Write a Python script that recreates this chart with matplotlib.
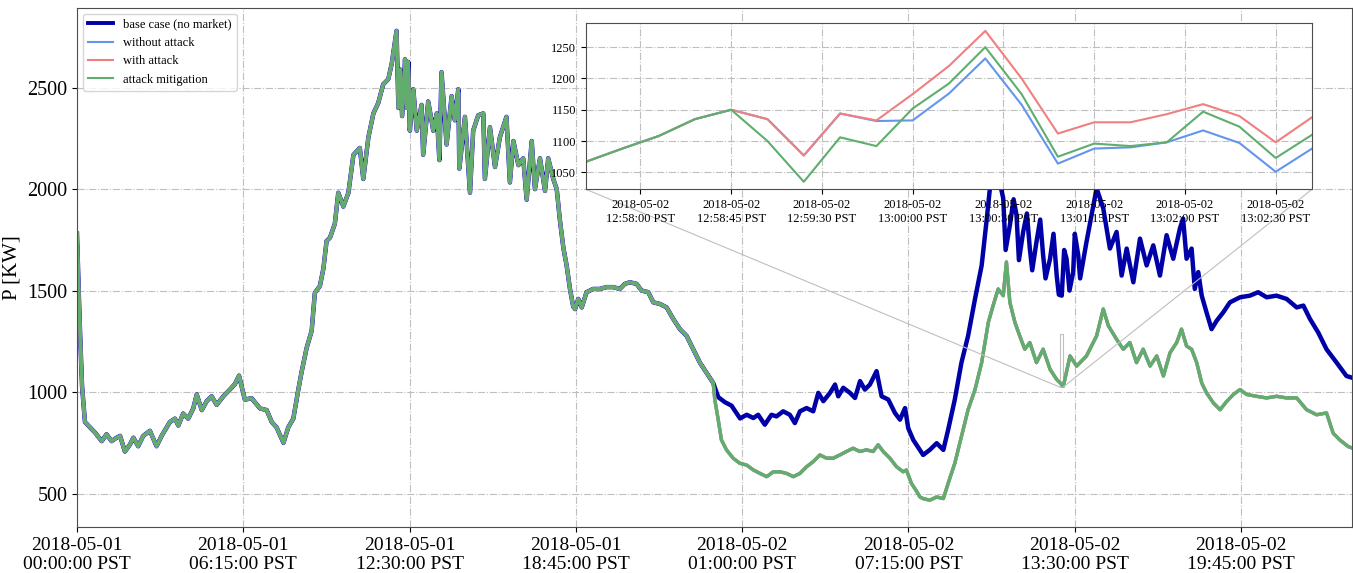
import numpy as np
import pandas as pd
import matplotlib
matplotlib.use('Agg')
import matplotlib.pyplot as plt
from mpl_toolkits.axes_grid1.inset_locator import mark_inset

plt.rcParams['font.family'] = ['Liberation Serif', 'DejaVu Serif']
plt.rcParams['axes.edgecolor'] = '0.3'

t0 = pd.Timestamp('2018-05-01 00:00:00')

# hours since 2018-05-01 00:00, all cases identical until about midnight
shared_hours = [0.00, 0.10, 0.19, 0.30, 0.49, 0.68, 0.93, 1.11, 1.30, 1.49, 1.62, 1.80, 1.99, 2.12,
                2.30, 2.49, 2.74, 2.99, 3.18, 3.49, 3.68, 3.81, 3.99, 4.18, 4.37, 4.50, 4.69, 4.87,
                5.06, 5.25, 5.50, 5.75, 5.94, 6.09, 6.31, 6.56, 6.88, 7.13, 7.32, 7.50, 7.76, 7.94,
                8.13, 8.32, 8.44, 8.63, 8.82, 8.94, 9.13, 9.26, 9.38, 9.51, 9.69, 9.82, 10.01, 10.20,
                10.39, 10.63, 10.76, 10.95, 11.14, 11.32, 11.51, 11.70, 11.83, 12.01, 12.08, 12.14,
                12.22, 12.33, 12.40, 12.45, 12.51, 12.64, 12.77, 12.95, 13.01, 13.20, 13.39, 13.52,
                13.62, 13.70, 13.89, 14.08, 14.20, 14.33, 14.37, 14.58, 14.77, 14.89, 15.08, 15.27,
                15.33, 15.52, 15.71, 15.89, 16.14, 16.27, 16.40, 16.59, 16.77, 16.90, 17.09, 17.21,
                17.40, 17.59, 17.71, 17.90, 18.03, 18.15, 18.28, 18.40, 18.53, 18.65, 18.72, 18.84,
                18.97, 19.15, 19.40, 19.65, 19.90, 20.15, 20.40, 20.59, 20.78, 21.03, 21.22, 21.47,
                21.66, 21.91, 22.16, 22.41, 22.66, 22.91, 23.16, 23.41, 23.66, 23.91]
shared_p = [1780, 1350, 1030, 852, 826, 800, 758, 792, 758, 775, 784, 707, 741, 775,
            733, 784, 809, 733, 784, 852, 869, 835, 894, 869, 919, 988, 911, 954,
            979, 937, 979, 1013, 1040, 1081, 962, 970, 919, 911, 852, 826, 750, 826,
            869, 1013, 1098, 1217, 1302, 1489, 1523, 1608, 1744, 1761, 1829, 1982, 1914, 1982,
            2169, 2203, 2050, 2254, 2373, 2424, 2517, 2542, 2619, 2780, 2400, 2590,
            2360, 2640, 2400, 2627, 2288, 2492, 2288, 2415, 2169, 2432, 2288, 2373,
            2143, 2576, 2220, 2458, 2339, 2492, 2101, 2356, 1982, 2288, 2364, 2373,
            2050, 2305, 2109, 2254, 2356, 2033, 2237, 2118, 2152, 1948, 2237, 2000,
            2152, 1991, 2152, 2050, 2000, 1846, 1710, 1625, 1506, 1421, 1409, 1459,
            1417, 1492, 1508, 1508, 1517, 1517, 1508, 1533, 1541, 1533, 1500, 1492,
            1442, 1434, 1417, 1360, 1310, 1277, 1211, 1145, 1095, 1045]

# base case (no market) after the split
base_hours = [24.10, 24.35, 24.60, 24.72, 24.92, 25.17, 25.42, 25.60, 25.85, 26.10, 26.29, 26.54,
              26.79, 26.98, 27.17, 27.42, 27.67, 27.86, 28.05, 28.30, 28.49, 28.61, 28.80, 29.05,
              29.24, 29.43, 29.61, 29.80, 30.05, 30.24, 30.49, 30.74, 30.93, 31.12, 31.24, 31.43,
              31.60, 31.80, 32.05, 32.31, 32.56, 32.74, 32.99, 33.24, 33.49, 33.75, 34.00, 34.18,
              34.31, 34.50, 34.65, 34.81, 34.90, 35.06, 35.20, 35.31, 35.40, 35.56, 35.70, 35.81,
              35.90, 36.06, 36.20, 36.31, 36.40, 36.57, 36.70, 36.82, 36.90, 37.01, 37.10, 37.19,
              37.30, 37.44, 37.50, 37.63, 37.70, 37.94, 38.32, 38.57, 38.82, 39.07, 39.26, 39.45,
              39.70, 39.95, 40.20, 40.45, 40.70, 40.95, 41.20, 41.45, 41.57, 41.70, 41.89, 42.01,
              42.14, 42.27, 42.45, 42.64, 42.83, 43.08, 43.33, 43.71, 44.08, 44.39, 44.71, 45.08,
              45.46, 45.84, 46.09, 46.34, 46.65, 46.96, 47.34, 47.71, 47.91]
base_p = [975, 950, 933, 909, 870, 888, 872, 888, 839, 888, 880, 905,
          888, 847, 905, 921, 905, 996, 955, 996, 1037, 979, 1021, 996,
          971, 1054, 1012, 1037, 1103, 979, 963, 897, 864, 921, 822, 764,
          730, 690, 715, 748, 715, 814, 963, 1145, 1277, 1459, 1624, 1839,
          2004, 2150, 2050, 1955, 1700, 1822, 1950, 1872, 1650, 1789, 1880, 1707,
          1600, 1740, 1850, 1674, 1560, 1657, 1780, 1574, 1480, 1475, 1700, 1657,
          1500, 1591, 1780, 1674, 1560, 1740, 2004, 1905, 1707, 1789, 1574, 1707,
          1541, 1756, 1624, 1723, 1574, 1773, 1657, 1806, 1855, 1657, 1707, 1508,
          1591, 1475, 1393, 1310, 1351, 1393, 1442, 1467, 1475, 1492, 1467, 1475,
          1459, 1417, 1426, 1360, 1293, 1211, 1145, 1079, 1071]

# market cases (without attack / with attack / mitigation overlap at this scale)
market_hours = [23.97, 24.10, 24.22, 24.41, 24.66, 24.91, 25.17, 25.42, 25.67, 25.92, 26.17, 26.42,
                26.67, 26.92, 27.17, 27.42, 27.67, 27.92, 28.17, 28.42, 28.67, 28.92, 29.17, 29.42,
                29.67, 29.92, 30.11, 30.30, 30.55, 30.80, 31.05, 31.17, 31.36, 31.55, 31.68, 31.80,
                32.05, 32.31, 32.56, 32.74, 32.99, 33.24, 33.49, 33.75, 34.00, 34.25, 34.43, 34.62,
                34.81, 34.93, 35.06, 35.25, 35.43, 35.62, 35.81, 36.06, 36.31, 36.57, 36.82, 37.07,
                37.32, 37.57, 37.94, 38.32, 38.57, 38.76, 39.07, 39.32, 39.57, 39.82, 40.07, 40.33,
                40.58, 40.83, 41.08, 41.33, 41.51, 41.70, 41.89, 42.08, 42.27, 42.45, 42.71, 42.96,
                43.21, 43.46, 43.71, 43.96, 44.33, 44.71, 45.08, 45.46, 45.84, 46.21, 46.59, 46.96,
                47.21, 47.46, 47.78, 47.91]
market_p = [963, 863, 764, 715, 674, 649, 640, 616, 599, 583, 607, 607,
            599, 583, 599, 632, 657, 690, 674, 674, 690, 707, 723, 707,
            715, 707, 740, 707, 674, 632, 607, 616, 550, 512, 483, 475,
            467, 483, 475, 550, 649, 781, 913, 1012, 1145, 1343, 1426, 1508,
            1475, 1641, 1442, 1343, 1277, 1211, 1244, 1145, 1211, 1112, 1062, 1029,
            1178, 1128, 1178, 1277, 1409, 1327, 1260, 1211, 1244, 1145, 1211, 1128,
            1178, 1079, 1194, 1244, 1310, 1227, 1211, 1145, 1045, 996, 946, 913,
            954, 988, 1012, 988, 979, 971, 979, 971, 971, 913, 888, 897,
            797, 764, 731, 725]

main_tick_hours = [0, 6.25, 12.5, 18.75, 25, 31.25, 37.5, 43.75]
main_tick_labels = ['2018-05-01\n00:00:00 PST', '2018-05-01\n06:15:00 PST', '2018-05-01\n12:30:00 PST',
                    '2018-05-01\n18:45:00 PST', '2018-05-02\n01:00:00 PST', '2018-05-02\n07:15:00 PST',
                    '2018-05-02\n13:30:00 PST', '2018-05-02\n19:45:00 PST']

# zoomed window, one sample every 15 s
inset_start = pd.Timestamp('2018-05-02 12:57:45')
inset_without = [1067, 1088, 1108, 1135, 1150, 1135, 1077, 1144, 1132, 1133, 1176,
                 1232, 1158, 1064, 1088, 1090, 1098, 1117, 1097, 1051, 1088]
inset_with = [1067, 1088, 1108, 1135, 1150, 1135, 1077, 1144, 1133, 1175, 1220,
              1276, 1200, 1112, 1130, 1130, 1143, 1159, 1140, 1098, 1138]
inset_mitig = [1067, 1088, 1108, 1135, 1150, 1100, 1035, 1106, 1092, 1152, 1192,
               1250, 1175, 1075, 1096, 1092, 1098, 1147, 1123, 1073, 1110]
inset_tick_idx = [1.5, 4, 6.5, 9, 11.5, 14, 16.5, 19]
inset_tick_labels = ['2018-05-02\n12:58:00 PST', '2018-05-02\n12:58:45 PST', '2018-05-02\n12:59:30 PST',
                     '2018-05-02\n13:00:00 PST', '2018-05-02\n13:00:30 PST', '2018-05-02\n13:01:15 PST',
                     '2018-05-02\n13:02:00 PST', '2018-05-02\n13:02:30 PST']

c_base = '#0000a8'
c_without = '#6495ed'
c_with = '#f08080'
c_mitig = '#5fae6e'


def to_time(hours):
    return t0 + pd.to_timedelta(np.asarray(hours, dtype=float), unit='h')


base_t = to_time(shared_hours + base_hours)
base_v = shared_p + base_p
mkt_t = to_time(shared_hours + market_hours)
mkt_v = shared_p + market_p

fig = plt.figure(figsize=(13.53, 5.73), dpi=100)
ax = fig.add_axes([0.0569, 0.0803, 0.9424, 0.9066])

ax.plot(base_t, base_v, color=c_base, lw=3.2, label='base case (no market)')
ax.plot(mkt_t, mkt_v, color=c_without, lw=2.4, label='without attack')
ax.plot(mkt_t, mkt_v, color=c_with, lw=2.4, label='with attack')
ax.plot(mkt_t, mkt_v, color=c_mitig, lw=2.4, label='attack mitigation')

ax.set_xlim(to_time([0])[0], to_time([47.92])[0])
ax.set_ylim(335, 2895)
ax.set_xticks(to_time(main_tick_hours))
ax.set_xticklabels(main_tick_labels, fontsize=14)
ax.set_yticks([500, 1000, 1500, 2000, 2500])
ax.tick_params(axis='y', labelsize=14.5)
ax.set_ylabel('P [KW]', fontsize=15)
ax.grid(True, linestyle='-.', color='0.75', lw=0.8)
leg = ax.legend(loc='upper left', fontsize=9, edgecolor='0.8', borderaxespad=0.5)
# legend keeps the thin lines, only the base case is bold
for i, line in enumerate(leg.get_lines()):
    line.set_linewidth(2.8 if i == 0 else 1.5)

# inset
axins = fig.add_axes([0.4331, 0.6696, 0.5366, 0.2897])
ins_t = inset_start + pd.to_timedelta(np.arange(len(inset_mitig)) * 15, unit='s')
axins.plot(ins_t, inset_without, color=c_without, lw=1.5)
axins.plot(ins_t, inset_with, color=c_with, lw=1.5)
axins.plot(ins_t, inset_mitig, color=c_mitig, lw=1.5)
axins.set_xlim(ins_t[0], ins_t[-1])
tick_t = inset_start + pd.to_timedelta(np.array(inset_tick_idx) * 15, unit='s')
axins.set_xticks(tick_t)
axins.set_xticklabels(inset_tick_labels, fontsize=9)
axins.set_yticks([1050, 1100, 1150, 1200, 1250])
axins.tick_params(axis='y', labelsize=9)
axins.grid(True, linestyle='-.', color='0.75', lw=0.8)

mark_inset(ax, axins, loc1=3, loc2=4, fc='none', ec='0.75', lw=0.8)

fig.savefig('out.png', dpi=100)
